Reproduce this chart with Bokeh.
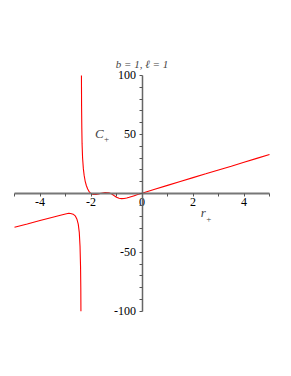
from bokeh.plotting import figure
from bokeh.models import Range1d, FixedTicker, Label
from bokeh.embed import file_html
from bokeh.resources import INLINE

# ---- data ----
left_x = [-5, -4.5, -4, -3.5, -3.2, -3.0, -2.87, -2.8, -2.7, -2.62, -2.55, -2.5, -2.46, -2.43, -2.41, -2.40, -2.395]
left_y = [-28.7, -25.9, -23, -20.2, -18.5, -17.4, -16.8, -17.0, -17.6, -19, -22, -26, -33, -45, -62, -80, -100]

right_x = [-2.375, -2.37, -2.36, -2.35, -2.33, -2.3, -2.27, -2.23, -2.18, -2.13, -2.08, -2.03, -1.98, -1.9,
           -1.8, -1.7, -1.6, -1.45, -1.3, -1.2, -1.1, -1.0, -0.9, -0.8, -0.7, -0.6, -0.5, -0.4, -0.3, -0.2, -0.1,
           0, 0.5, 1, 1.5, 2, 2.5, 3, 3.5, 4, 4.5, 5]
right_y = [100, 75, 55, 42, 30, 21, 15.5, 10.5, 6.5, 3.8, 1.8, 0.4, -0.4, -0.9,
           -0.8, -0.4, 0.1, 0.8, 0.6, -0.3, -1.8, -3.2, -4.1, -4.4, -4.3, -3.9, -3.3, -2.6, -1.9, -1.2, -0.5,
           0.2, 3.5, 6.8, 10.1, 13.4, 16.6, 19.9, 23.1, 26.4, 29.7, 33]

x_ticks = list(range(-5, 6))
x_tick_labels = {-4: "-4", -2: "-2", 0: "0", 2: "2", 4: "4"}
y_ticks = list(range(-100, 101, 10))
y_tick_labels = {100: "100", 50: "50", -50: "-50", -100: "-100"}
title_text = "b = 1, \u2113 = 1"

FONT = "Liberation Serif"

p = figure(width=275, height=360, output_backend="svg", toolbar_location=None,
           x_range=Range1d(-5.549, 5.235), y_range=Range1d(-141.7, 163.6),
           min_border=0, min_border_left=0, min_border_right=0, min_border_top=0, min_border_bottom=0)
p.outline_line_color = None
p.grid.visible = False
p.background_fill_color = "white"
p.border_fill_color = "white"

# axes crossing at origin
xa = p.xaxis[0]
xa.fixed_location = 0
xa.bounds = (-5, 5)
xa.ticker = FixedTicker(ticks=x_ticks)
xa.major_label_overrides = {t: x_tick_labels.get(t, "") for t in x_ticks}
xa.minor_tick_line_color = None
xa.major_tick_in = 0
xa.major_tick_out = 3
xa.axis_line_color = "#777777"
xa.axis_line_width = 1.8
xa.major_tick_line_color = "#555555"
xa.major_label_text_font = FONT
xa.major_label_text_font_size = "12px"
xa.major_label_text_color = "black"
xa.major_label_standoff = 2

ya = p.yaxis[0]
ya.fixed_location = 0
ya.bounds = (-100, 100)
ya.ticker = FixedTicker(ticks=y_ticks)
ya.major_label_overrides = {t: y_tick_labels.get(t, "") for t in y_ticks}
ya.minor_tick_line_color = None
ya.major_tick_in = 0
ya.major_tick_out = 3
ya.axis_line_color = "#666666"
ya.axis_line_width = 1.5
ya.major_tick_line_color = "#555555"
ya.major_label_text_font = FONT
ya.major_label_text_font_size = "12px"
ya.major_label_text_color = "black"
ya.major_label_standoff = 3

# curve
p.line(left_x, left_y, line_color="#ff0000", line_width=1.1)
p.line(right_x, right_y, line_color="#ff0000", line_width=1.1)

# title and axis labels
p.add_layout(Label(x=0, y=109.5, text=title_text, text_font=FONT, text_font_style="italic",
                   text_font_size="11px", text_align="center", text_baseline="middle"))
p.add_layout(Label(x=-1.5, y=51, text="C", text_font=FONT, text_font_style="italic",
                   text_font_size="13px", text_align="right", text_baseline="middle"))
p.add_layout(Label(x=-1.49, y=46, text="+", text_font=FONT,
                   text_font_size="9px", text_align="left", text_baseline="middle"))
p.add_layout(Label(x=2.5, y=-16.5, text="r", text_font=FONT, text_font_style="italic",
                   text_font_size="13px", text_align="right", text_baseline="middle"))
p.add_layout(Label(x=2.52, y=-21.5, text="+", text_font=FONT,
                   text_font_size="9px", text_align="left", text_baseline="middle"))

open("out.html", "w").write(file_html(p, INLINE))
